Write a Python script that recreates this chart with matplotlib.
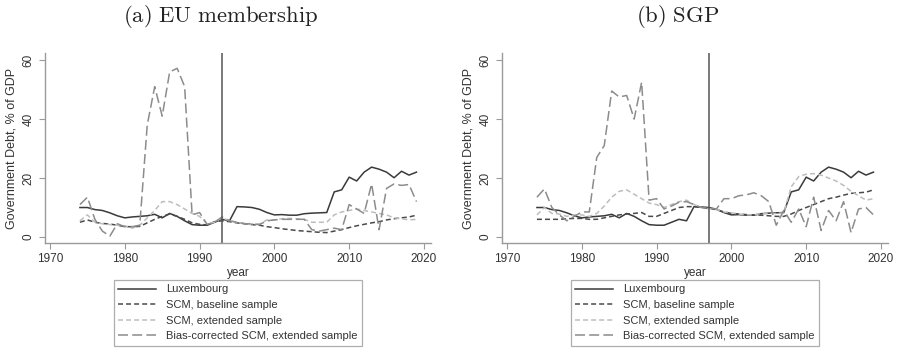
import numpy as np
import matplotlib
matplotlib.use("Agg")
import matplotlib.pyplot as plt

plt.rcParams['font.family'] = ['Liberation Sans', 'DejaVu Sans']
plt.rcParams['mathtext.fontset'] = 'cm'
plt.rcParams['lines.scale_dashes'] = False

years = np.arange(1974, 2020)

# Luxembourg, same in both panels
lux = [10, 10, 9.3, 9, 8.2, 7.2, 6.5, 6.8, 7, 7.2, 7.7, 6.5, 8, 7, 5.5, 4.2,
       4, 4, 5, 6, 5.5, 10.3, 10.2, 10, 9.4, 8.3, 7.5, 7.6, 7.4, 7.4, 7.9, 8.1,
       8.2, 8.3, 15.3, 16, 20.3, 19, 22, 23.7, 23, 22, 20.1, 22.3, 21, 22]

# (a) EU membership
eu_base = [5, 5.8, 5, 4.6, 4.4, 4.0, 3.5, 3.5, 3.6, 4.8, 6, 7, 7.8, 7, 6, 4.8,
           4.3, 4.1, 5.2, 5.5, 5.2, 4.8, 4.5, 4.2, 4, 3.5, 3.2, 2.8, 2.5, 2.2,
           2, 1.8, 1.6, 1.5, 2, 2.5, 3.2, 3.8, 4.3, 4.8, 5.2, 5.8, 6.2, 6.5,
           6.8, 7.4]
eu_ext = [5.5, 7.5, 5, 4.5, 4.2, 4, 3.8, 3, 4, 6.5, 9, 12, 12, 11, 9.5, 8,
          7, 4.5, 5, 6.5, 5.5, 5, 4.6, 4.5, 4.4, 5.8, 5.8, 6.2, 6.3, 6.2, 6,
          5, 5, 5, 7.5, 8.5, 9, 9.5, 9, 8.5, 8, 7.5, 6.5, 6.2, 5.8, 6]
eu_bias = [11, 13.5, 6, 2, 0.3, 4.5, 3.5, 3.5, 4, 38, 51, 41, 56, 57.2, 51,
           7.5, 8.3, 4.3, 5, 6.8, 5.5, 5, 4.5, 4.4, 4.2, 5.5, 5.8, 6, 6, 6, 6,
           2.5, 2, 2.5, 3, 2.5, 11, 9.5, 8, 18, 2.5, 16.5, 18, 17.5, 17.8, 12]

# (b) SGP
sgp_base = [6, 6, 6, 6, 6.2, 6.3, 6.3, 6, 6, 6.5, 7, 7.5, 7.8, 8, 8.3, 7, 7,
            8, 9, 10, 10.3, 10.3, 10, 9.7, 9.3, 8.5, 8, 7.8, 7.6, 7.5, 7.4,
            7.2, 7, 7, 7.8, 9, 10, 11, 12, 13, 13.5, 14.2, 14.8, 15, 15.2, 16]
sgp_ext = [7.5, 10, 8, 7.8, 7, 7.5, 7.5, 7, 8, 10.5, 13.5, 15.5, 16, 14.5, 13,
           11.5, 11, 10, 11, 12, 12.5, 11, 10, 9.6, 9.4, 8.5, 8.2, 7.8, 7.5,
           7.5, 8, 8, 8, 8.2, 17, 20.5, 21.3, 21.5, 21, 20, 19, 17.5, 15.5,
           14, 12.5, 13]
sgp_bias = [13.5, 16.3, 10, 7.5, 5.5, 7, 8.5, 8.5, 27, 31, 49.5, 47.5, 48, 40,
            52.5, 12.5, 13, 9.5, 10.5, 11.8, 12, 11, 10, 9.8, 9.5, 13, 13, 14,
            14.3, 15, 14, 12, 4, 9, 5, 9.5, 3.5, 13.5, 2.2, 9, 5.5, 12, 1.5,
            9.5, 10, 7.5]

panels = [
    ("(a)\\ EU\\ membership", 1993, eu_base, eu_ext, eu_bias),
    ("(b)\\ SGP", 1997, sgp_base, sgp_ext, sgp_bias),
]
labels = ["Luxembourg", "SCM, baseline sample", "SCM, extended sample",
          "Bias-corrected SCM, extended sample"]

W, H = 899, 352
fig = plt.figure(figsize=(W / 100, H / 100), dpi=100)

axes_left = [45, 502]
for i, (title, treat, base, ext, bias) in enumerate(panels):
    x0 = axes_left[i]
    ax = fig.add_axes([x0 / W, (H - 243) / H, 386 / W, 190 / H])
    ax.plot(years, lux, color='#3a3a3a', lw=1.1, label=labels[0])
    ax.plot(years, base, color='#4a4a4a', lw=1.1, dashes=(3.6, 2.2), label=labels[1])
    ax.plot(years, ext, color='#bdbdbd', lw=1.1, dashes=(3.6, 2.2), label=labels[2])
    ax.plot(years, bias, color='#8c8c8c', lw=1.1, dashes=(7.2, 3.0), label=labels[3])
    ax.axvline(treat, color='#555555', lw=1.1)

    ax.set_xlim(1969.33, 2020.94)
    ax.set_ylim(-2.03, 62.4)
    ax.set_xticks([1970, 1980, 1990, 2000, 2010, 2020])
    ax.set_yticks([0, 20, 40, 60])
    for s in ['top', 'right']:
        ax.spines[s].set_visible(False)
    for s in ['left', 'bottom']:
        ax.spines[s].set_color('#9a9a9a')
        ax.spines[s].set_linewidth(1.0)
    ax.tick_params(colors='#9a9a9a', labelcolor='#333333', labelsize=8.5,
                   length=4, width=0.8)
    plt.setp(ax.get_yticklabels(), rotation=90, va='center')
    ax.set_xlabel("year", fontsize=8.5, color='#333333', labelpad=1)
    ax.set_ylabel("Government Debt, % of GDP", fontsize=9, color='#333333',
                  labelpad=4)

    leg = ax.legend(loc='upper center', bbox_to_anchor=(0.5, -0.195), ncol=1,
                    fontsize=8, frameon=True, fancybox=False,
                    handlelength=3.4, handletextpad=0.9, labelspacing=0.5,
                    borderpad=0.4, borderaxespad=0)
    leg.get_frame().set_edgecolor('#9a9a9a')
    leg.get_frame().set_linewidth(0.9)
    for t in leg.get_texts():
        t.set_color('#333333')

    fig.text((x0 + 176) / W, 1 - 17 / H, "$\\mathrm{" + title + "}$",
             ha='center', va='center', fontsize=16.3, color='#222222')

fig.savefig("out.png", dpi=100)
